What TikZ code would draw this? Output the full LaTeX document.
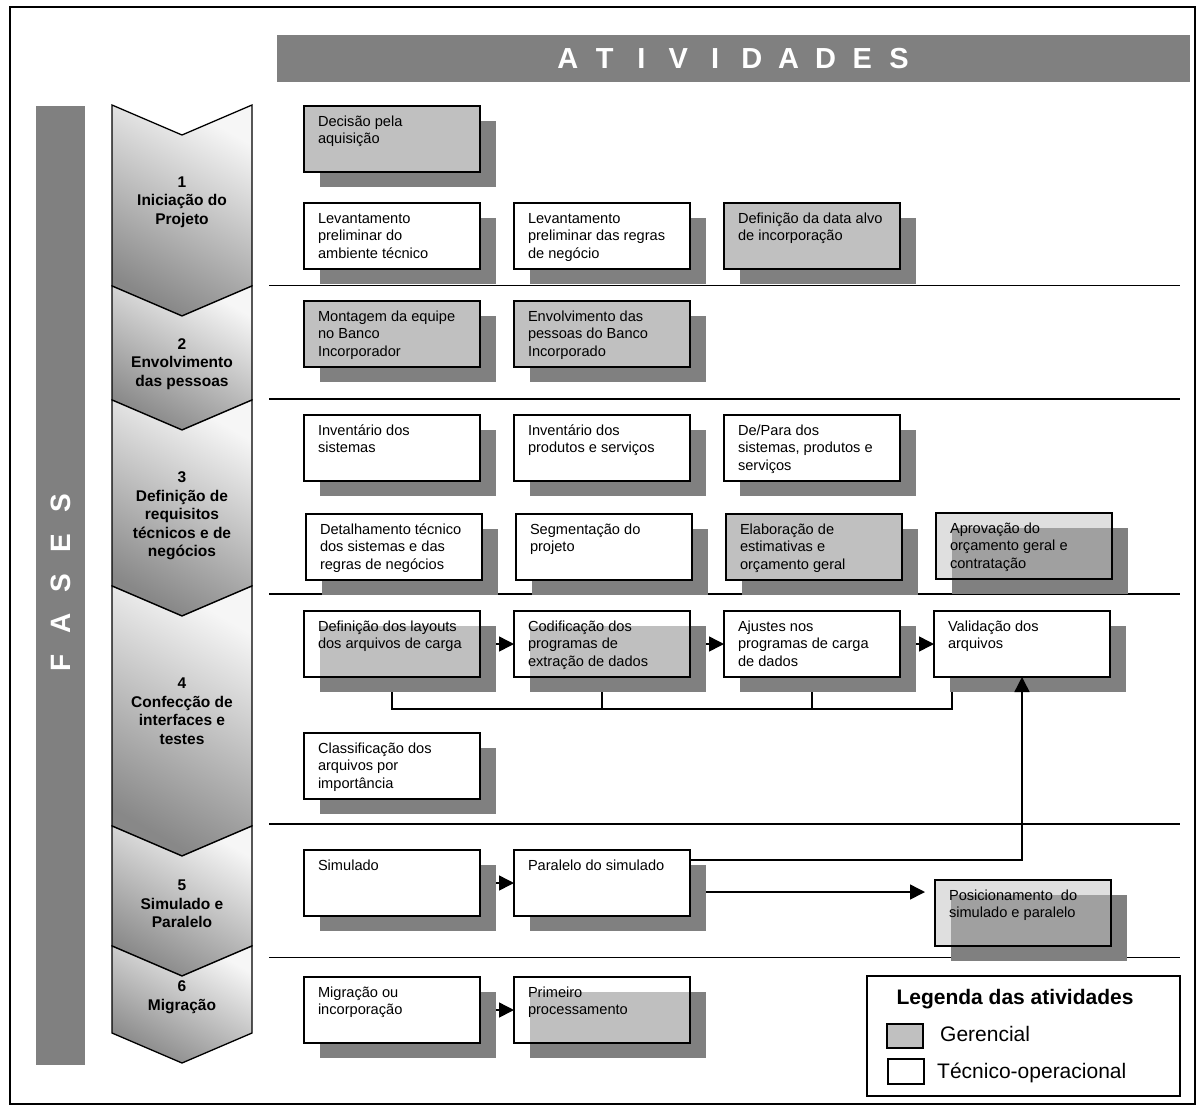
\documentclass[tikz,border=0pt]{standalone}
\usepackage{fontspec}
\setmainfont{Liberation Sans}
\usetikzlibrary{arrows.meta,shadows,calc}

\definecolor{barGray}{HTML}{808080}
\definecolor{gerFill}{HTML}{C0C0C0}
\definecolor{shadeGray}{HTML}{808080}
\definecolor{chevLight}{HTML}{F6F6F6}
\definecolor{chevDark}{HTML}{888888}

\pgfdeclarelayer{background}
\pgfsetlayers{background,main}

% fonts
\newcommand{\actfont}{\fontsize{14.6}{17.6}\selectfont}
\newcommand{\phfont}{\fontsize{15.5}{18.5}\selectfont\bfseries}
\newcommand{\bigfont}{\fontsize{29}{34}\selectfont\bfseries}
\newcommand{\legfont}{\fontsize{21}{25}\selectfont}

% activity text, top aligned inside a fixed-size box
\newcommand{\acttext}[1]{\parbox[c][50pt][t]{148pt}{\raggedright\strut #1}}

% one phase chevron: top edge y, bottom edge y
\newcommand{\chevron}[2]{%
  \path[chev] (112,#1) -- (182,{#1+30}) -- (252,#1) -- (252,#2)
    -- (182,{#2+30}) -- (112,#2) -- cycle;}

\tikzset{
  act/.style={draw=black, line width=1.5pt, anchor=north west,
    inner xsep=14pt, inner ysep=8pt, outer sep=0pt, font=\actfont,
    drop shadow={shadow xshift=16pt, shadow yshift=-15pt,
      fill=shadeGray, opacity=1}},
  ger/.style={act, fill=gerFill},
  tec/.style={act, fill=white},
  gerT/.style={act, fill=gerFill, fill opacity=0.5, text opacity=1},
  tecT/.style={act, fill=white, fill opacity=0.5, text opacity=1},
  chev/.style={draw=black, line width=1.3pt, top color=chevLight,
    bottom color=chevDark, shading angle=-30},
  phase/.style={align=center, font=\phfont},
  divider/.style={line width=1.8pt},
  link/.style={line width=1.5pt},
  arr/.style={line width=1.5pt, -{Triangle[length=15pt 0 0,width=15pt 0 0]}},
}

\begin{document}
\begin{tikzpicture}[x=1pt, y=-1pt]
  \begin{pgfonlayer}{background}
    \fill[white] (0,0) rectangle (1204,1111);
  \end{pgfonlayer}
  \useasboundingbox (0,0) rectangle (1204,1111);

  % outer frame
  \draw[line width=2.5pt] (10,7) rectangle (1195,1104);

  % column header
  \fill[barGray] (277,35) rectangle (1190,82);
  \node[font=\bigfont, text=white, inner sep=0pt] (hdr) at (733.5,58.5)
    {\makebox[36.8pt]{A}\makebox[36.8pt]{T}\makebox[36.8pt]{I}\makebox[36.8pt]{V}\makebox[36.8pt]{I}%
     \makebox[36.8pt]{D}\makebox[36.8pt]{A}\makebox[36.8pt]{D}\makebox[36.8pt]{E}\makebox[36.8pt]{S}};

  % row header
  \fill[barGray] (36,106) rectangle (85,1065);
  \node[font=\fontsize{28}{33}\selectfont\bfseries, text=white, inner sep=0pt, rotate=90]
    (fases) at (61,583)
    {\makebox[40pt]{F}\makebox[40pt]{A}\makebox[40pt]{S}\makebox[40pt]{E}\makebox[40pt]{S}};

  % phase chevrons
  \chevron{105}{286}
  \chevron{286}{400}
  \chevron{400}{586}
  \chevron{586}{826}
  \chevron{826}{946}
  \chevron{946}{1033}

  \node[phase] (p1) at (182,202) {1\\Iniciação do\\Projeto};
  \node[phase] (p2) at (182,364) {2\\Envolvimento\\das pessoas};
  \node[phase] (p3) at (182,516) {3\\Definição de\\requisitos\\técnicos e de\\negócios};
  \node[phase] (p4) at (182,711) {4\\Confecção de\\interfaces e\\testes};
  \node[phase] (p5) at (182,904) {5\\Simulado e\\Paralelo};
  \node[phase] (p6) at (182,997) {6\\Migração};

  % phase separators
  \draw[divider] (269,285.5) -- (1180,285.5);
  \draw[divider] (269,399)   -- (1180,399);
  \draw[divider] (269,594)   -- (1180,594);
  \draw[divider] (269,824)   -- (1180,824);
  \draw[divider] (269,957.5) -- (1180,957.5);

  % phase 1
  \node[ger] (a1) at (304,106) {\acttext{Decisão pela\\aquisição}};
  \node[tec] (a2) at (304,203) {\acttext{Levantamento\\preliminar do\\ambiente técnico}};
  \node[tec] (a3) at (514,203) {\acttext{Levantamento\\preliminar das regras\\de negócio}};
  \node[ger] (a4) at (724,203) {\acttext{Definição da data alvo\\de incorporação}};

  % phase 2
  \node[ger] (b1) at (304,301) {\acttext{Montagem da equipe\\no Banco\\Incorporador}};
  \node[ger] (b2) at (514,301) {\acttext{Envolvimento das\\pessoas do Banco\\Incorporado}};

  % phase 3
  \node[tec] (c1) at (304,415) {\acttext{Inventário dos\\sistemas}};
  \node[tec] (c2) at (514,415) {\acttext{Inventário dos\\produtos e serviços}};
  \node[tec] (c3) at (724,415) {\acttext{De/Para dos\\sistemas, produtos e\\serviços}};
  \node[tec] (c4) at (306,514) {\acttext{Detalhamento técnico\\dos sistemas e das\\regras de negócios}};
  \node[tec] (c5) at (516,514) {\acttext{Segmentação do\\projeto}};
  \node[ger] (c6) at (726,514) {\acttext{Elaboração de\\estimativas e\\orçamento geral}};
  \node[gerT] (c7) at (936,513) {\acttext{Aprovação do\\orçamento geral e\\contratação}};

  % phase 4
  \node[tecT] (d1) at (304,611) {\acttext{Definição dos layouts\\dos arquivos de carga}};
  \node[tecT] (d2) at (514,611) {\acttext{Codificação dos\\programas de\\extração de dados}};
  \node[tec] (d3) at (724,611) {\acttext{Ajustes nos\\programas de carga\\de dados}};
  \node[tec] (d4) at (934,611) {\acttext{Validação dos\\arquivos}};
  \node[tec] (d5) at (304,733) {\acttext{Classificação dos\\arquivos por\\importância}};

  % phase 5
  \node[tec] (e1) at (304,850) {\acttext{Simulado}};
  \node[tec] (e2) at (514,850) {\acttext{Paralelo do simulado}};
  \node[gerT] (e3) at (935,880) {\acttext{Posicionamento~ do\\simulado e paralelo}};

  % phase 6
  \node[tec] (f1) at (304,977) {\acttext{Migração ou\\incorporação}};
  \node[tecT] (f2) at (514,977) {\acttext{Primeiro\\processamento}};

  \coordinate (d4foot) at ($(d4.south west)+(18,0)$);
  \coordinate (posin) at ($(e3.north west)+(-10,12)$);

  % connectors that run behind the shadows
  \begin{pgfonlayer}{background}
    \draw[arr] (d1.east) -- (d2.west);
    \draw[arr] (d2.east) -- (d3.west);
    \draw[arr] (d3.east) -- (d4.west);
    \draw[link] (d1.south) -- ++(0,32) coordinate (br) -- (br -| d4foot) -- (d4foot);
    \draw[link] (d2.south) -- (d2.south |- br);
    \draw[link] (d3.south) -- (d3.south |- br);
    \draw[arr] (e1.east) -- (e2.west);
    \draw[arr] (e2.east |- posin) -- (posin);
    \draw[arr] (f1.east) -- (f2.west);
  \end{pgfonlayer}

  % return path to the file validation
  \draw[arr] ($(e2.north east)+(0,10)$) -| (d4.south);

  % legend
  \draw[line width=1.5pt] (867,976) rectangle (1180,1096);
  \node[font=\legfont\bfseries, anchor=base] (legtitle) at (1015,1004) {Legenda das atividades};
  \node[draw, line width=1.5pt, fill=gerFill, minimum width=36pt, minimum height=24pt,
    inner sep=0pt] (lg1) at (905,1036) {};
  \node[draw, line width=1.5pt, fill=white, minimum width=36pt, minimum height=25pt,
    inner sep=0pt] (lg2) at (906,1071.5) {};
  \node[font=\legfont, anchor=base west, inner sep=0pt] (lgt1) at (940,1041) {Gerencial};
  \node[font=\legfont, anchor=base west, inner sep=0pt] (lgt2) at (937,1078) {Técnico-operacional};
\end{tikzpicture}
\end{document}
